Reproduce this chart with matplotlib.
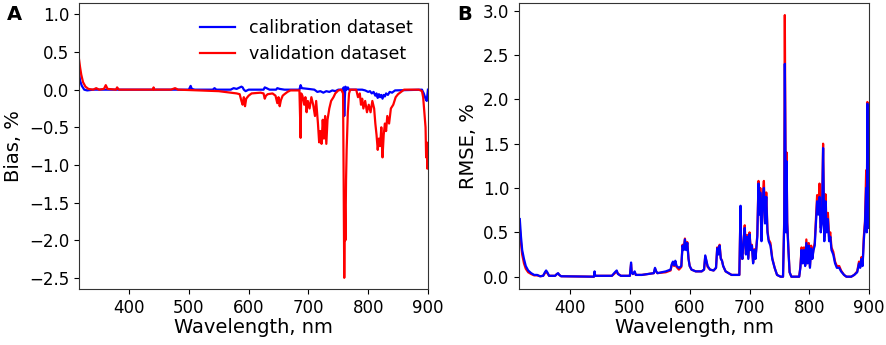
import matplotlib
matplotlib.use("Agg")
import matplotlib.pyplot as plt

# ---- Panel A: bias (%) ----
wl_cal_a = [316, 318, 321, 325, 330, 340, 500, 503, 505, 510,
            540, 543, 546, 570, 575, 580, 588, 590, 592, 595,
            600, 625, 627, 630, 635, 646, 648, 652, 660, 685,
            687, 689, 700, 710, 715, 720, 725, 730, 735, 740,
            745, 750, 758, 759, 760, 761, 762, 764, 766, 768,
            790, 795, 800, 803, 806, 809, 812, 814, 816, 818,
            820, 822, 824, 826, 828, 830, 833, 836, 840, 845,
            890, 893, 896, 898, 900]
cal_bias = [0.25, 0.12, 0.05, 0.00, -0.01, 0.00, 0.00, 0.05, 0.01, 0.00,
            0.00, 0.02, 0.00, 0.00, 0.02, 0.01, 0.04, 0.03, 0.00, -0.02,
            0.00, 0.00, 0.03, 0.02, 0.00, 0.00, 0.02, 0.01, 0.00, 0.00,
            0.06, 0.02, 0.01, 0.00, -0.03, -0.02, -0.04, -0.02, -0.03, -0.01,
            -0.02, 0.00, 0.00, 0.03, -0.35, -0.10, 0.04, 0.00, 0.03, 0.00,
            0.00, -0.01, -0.03, -0.02, -0.05, -0.03, -0.08, -0.05, -0.11, -0.06,
            -0.10, -0.07, -0.12, -0.07, -0.09, -0.05, -0.07, -0.03, -0.04, -0.01,
            0.00, -0.05, -0.12, -0.15, 0.00]

wl_val_a = [316, 318, 320, 323, 327, 332, 340, 345, 350, 358,
            361, 364, 378, 380, 383, 440, 441, 442, 470, 477,
            482, 500, 550, 570, 580, 585, 588, 590, 592, 594,
            596, 600, 605, 620, 625, 627, 629, 632, 640, 645,
            648, 650, 652, 654, 657, 660, 665, 670, 685, 687,
            688, 690, 693, 695, 697, 699, 702, 705, 708, 711,
            713, 716, 718, 720, 722, 724, 726, 728, 730, 732,
            735, 738, 742, 745, 750, 755, 758, 759, 760, 761,
            762, 763, 764, 766, 768, 770, 780, 783, 786, 788,
            790, 792, 795, 798, 801, 804, 807, 810, 812, 814,
            816, 818, 820, 822, 824, 826, 828, 830, 832, 835,
            838, 842, 846, 850, 855, 860, 885, 890, 892, 894,
            896, 897, 898, 899, 900]
val_bias = [0.42, 0.30, 0.20, 0.10, 0.04, 0.01, 0.00, 0.02, 0.00, 0.01,
            0.06, 0.01, 0.00, 0.03, 0.00, 0.00, 0.03, 0.00, 0.00, 0.02,
            0.00, -0.005, -0.02, -0.04, -0.05, -0.06, -0.15, -0.20, -0.10, -0.22,
            -0.12, -0.08, -0.05, -0.04, -0.05, -0.12, -0.08, -0.06, -0.05, -0.08,
            -0.18, -0.10, -0.22, -0.14, -0.08, -0.06, -0.03, -0.01, -0.01, -0.64,
            -0.05, -0.08, -0.20, -0.10, -0.30, -0.15, -0.25, -0.10, -0.20, -0.35,
            -0.15, -0.45, -0.70, -0.55, -0.72, -0.40, -0.65, -0.35, -0.72, -0.40,
            -0.25, -0.15, -0.10, -0.05, -0.01, 0.00, -0.05, -1.20, -2.50, -1.50,
            -2.00, -1.20, -0.80, -0.30, -0.05, 0.00, 0.00, -0.10, -0.05, -0.20,
            -0.12, -0.25, -0.15, -0.30, -0.20, -0.30, -0.15, -0.25, -0.45, -0.60,
            -0.80, -0.65, -0.75, -0.50, -0.90, -0.60, -0.45, -0.55, -0.35, -0.45,
            -0.25, -0.20, -0.10, -0.06, -0.03, 0.00, 0.00, -0.02, -0.10, -0.30,
            -0.50, -0.90, -0.70, -1.05, -0.90]

# ---- Panel B: RMSE (%) ----
wl_b = [316, 318, 320, 323, 326, 330, 335, 340, 345, 350,
        355, 358, 360, 362, 365, 375, 378, 380, 382, 385,
        440, 441, 442, 470, 475, 478, 480, 485, 500, 502,
        503, 505, 508, 510, 520, 540, 542, 544, 546, 560,
        568, 570, 572, 574, 576, 578, 582, 586, 588, 590,
        592, 594, 596, 598, 600, 603, 610, 620, 624, 626,
        628, 630, 634, 640, 644, 646, 648, 650, 652, 654,
        656, 660, 670, 683, 685, 686, 688, 690, 692, 694,
        696, 698, 700, 702, 704, 706, 708, 710, 713, 715,
        717, 718, 720, 722, 724, 726, 728, 730, 732, 735,
        738, 742, 746, 752, 756, 758, 759, 760, 761, 762,
        763, 765, 767, 770, 783, 785, 787, 789, 791, 793,
        795, 797, 799, 801, 803, 805, 807, 809, 811, 813,
        815, 817, 819, 821, 823, 825, 827, 829, 831, 833,
        835, 837, 840, 843, 846, 850, 853, 858, 862, 870,
        875, 880, 883, 885, 887, 889, 891, 893, 895, 896,
        897, 898, 899, 900]
cal_rmse = [0.65, 0.45, 0.30, 0.20, 0.12, 0.07, 0.04, 0.02, 0.02, 0.005,
            0.01, 0.05, 0.07, 0.05, 0.01, 0.01, 0.03, 0.04, 0.02, 0.005,
            0.00, 0.06, 0.01, 0.01, 0.05, 0.07, 0.03, 0.01, 0.01, 0.16,
            0.05, 0.03, 0.06, 0.02, 0.02, 0.04, 0.10, 0.06, 0.04, 0.06,
            0.08, 0.14, 0.17, 0.13, 0.18, 0.12, 0.10, 0.12, 0.35, 0.30,
            0.42, 0.30, 0.38, 0.20, 0.12, 0.08, 0.06, 0.06, 0.08, 0.24,
            0.18, 0.12, 0.08, 0.07, 0.10, 0.32, 0.25, 0.35, 0.20, 0.18,
            0.12, 0.06, 0.02, 0.02, 0.80, 0.30, 0.20, 0.40, 0.55, 0.25,
            0.45, 0.20, 0.48, 0.30, 0.35, 0.15, 0.30, 0.20, 0.45, 1.05,
            0.70, 0.95, 0.40, 0.85, 1.00, 0.60, 0.90, 0.50, 0.40, 0.35,
            0.20, 0.10, 0.02, 0.00, 0.00, 0.60, 2.40, 1.50, 0.50, 1.30,
            0.60, 0.30, 0.05, 0.00, 0.00, 0.10, 0.30, 0.15, 0.30, 0.12,
            0.38, 0.15, 0.35, 0.10, 0.32, 0.20, 0.30, 0.35, 0.60, 0.85,
            0.70, 0.90, 0.50, 0.60, 1.45, 0.40, 0.85, 0.50, 0.65, 0.40,
            0.45, 0.30, 0.25, 0.15, 0.10, 0.10, 0.06, 0.02, 0.00, 0.00,
            0.02, 0.05, 0.15, 0.10, 0.20, 0.12, 0.40, 0.60, 1.00, 0.50,
            1.95, 0.80, 1.00, 0.55]
val_rmse = [0.55, 0.38, 0.25, 0.15, 0.09, 0.05, 0.03, 0.015, 0.015, 0.005,
            0.01, 0.04, 0.06, 0.04, 0.01, 0.01, 0.03, 0.035, 0.02, 0.005,
            0.00, 0.05, 0.01, 0.01, 0.04, 0.06, 0.035, 0.01, 0.01, 0.14,
            0.05, 0.03, 0.05, 0.02, 0.02, 0.04, 0.09, 0.06, 0.04, 0.05,
            0.07, 0.13, 0.16, 0.12, 0.17, 0.11, 0.08, 0.11, 0.36, 0.31,
            0.43, 0.31, 0.39, 0.21, 0.12, 0.08, 0.06, 0.06, 0.08, 0.23,
            0.17, 0.11, 0.08, 0.07, 0.10, 0.33, 0.26, 0.36, 0.21, 0.18,
            0.12, 0.06, 0.02, 0.02, 0.78, 0.30, 0.20, 0.40, 0.58, 0.26,
            0.47, 0.21, 0.50, 0.31, 0.36, 0.16, 0.31, 0.21, 0.47, 1.08,
            0.72, 1.00, 0.42, 0.88, 1.08, 0.62, 0.95, 0.52, 0.42, 0.38,
            0.21, 0.10, 0.02, 0.00, 0.00, 0.65, 2.95, 1.60, 0.55, 1.40,
            0.62, 0.32, 0.05, 0.00, 0.00, 0.11, 0.33, 0.16, 0.33, 0.13,
            0.42, 0.16, 0.38, 0.11, 0.35, 0.21, 0.32, 0.38, 0.65, 0.92,
            0.75, 1.05, 0.55, 0.65, 1.50, 0.45, 0.93, 0.55, 0.72, 0.45,
            0.50, 0.33, 0.28, 0.17, 0.12, 0.12, 0.07, 0.02, 0.00, 0.00,
            0.02, 0.06, 0.17, 0.11, 0.22, 0.13, 0.45, 0.62, 1.20, 0.52,
            1.97, 0.85, 1.05, 0.55]

xticks = [400, 500, 600, 700, 800, 900]

fig = plt.figure(figsize=(8.86, 3.45), dpi=100)
ax1 = fig.add_axes([0.089, 0.162, 0.394, 0.829])
ax2 = fig.add_axes([0.586, 0.162, 0.395, 0.829])

# A
ax1.plot(wl_cal_a, cal_bias, color="blue", lw=1.6, label="calibration dataset")
ax1.plot(wl_val_a, val_bias, color="red", lw=1.6, label="validation dataset")
ax1.set_xlim(316, 900)
ax1.set_ylim(-2.65, 1.15)
ax1.set_yticks([1.0, 0.5, 0.0, -0.5, -1.0, -1.5, -2.0, -2.5])
ax1.set_ylabel("Bias, %", fontsize=14)
ax1.legend(loc="upper right", frameon=False, fontsize=12.5, handlelength=2.0)

# B
ax2.plot(wl_b, val_rmse, color="red", lw=1.6)
ax2.plot(wl_b, cal_rmse, color="blue", lw=1.6)
ax2.set_xlim(315, 900)
ax2.set_ylim(-0.14, 3.085)
ax2.set_yticks([0.0, 0.5, 1.0, 1.5, 2.0, 2.5, 3.0])
ax2.set_ylabel("RMSE, %", fontsize=14)

for ax in (ax1, ax2):
    ax.set_xticks(xticks)
    ax.set_xlabel("Wavelength, nm", fontsize=14, labelpad=1)
    ax.tick_params(labelsize=12)
    for s in ax.spines.values():
        s.set_color("#333333")

fig.text(0.008, 0.985, "A", fontsize=14, fontweight="bold", va="top")
fig.text(0.516, 0.985, "B", fontsize=14, fontweight="bold", va="top")

fig.savefig("out.png", dpi=100)
